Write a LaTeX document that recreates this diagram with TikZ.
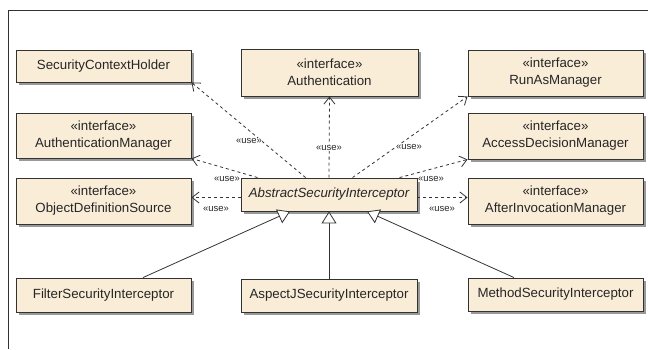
\documentclass[tikz,border=0pt]{standalone}
\usepackage{fontspec}
\setmainfont{Liberation Sans}
\usetikzlibrary{arrows.meta,shadows,calc}
\definecolor{boxfill}{RGB}{250,237,216}
\definecolor{boxline}{RGB}{50,50,50}
\tikzset{
  cls/.style={draw=boxline, line width=0.9pt, fill=boxfill, inner sep=0pt, align=center,
    font=\fontsize{13.3}{17}\selectfont, text=black!85,
    drop shadow={shadow xshift=2.5pt, shadow yshift=-2.5pt, fill=black!40, opacity=1}},
  dep/.style={draw=black!80, line width=0.8pt, dash pattern=on 3pt off 3pt,
    -{Straight Barb[length=7pt,width=11pt,line width=0.8pt]}},
  gen/.style={draw=black!80, line width=0.8pt,
    -{Triangle[open,length=12pt,width=15pt,fill=white,line width=0.8pt]}},
  uselbl/.style={font=\fontsize{9.5}{10}\selectfont, fill=white, inner sep=0.5pt, text=black!85}
}
\begin{document}
\begin{tikzpicture}[x=1pt,y=-1pt]
\useasboundingbox (0,0) rectangle (648,349);
\draw[black!80, line width=0.9pt] (8,349) -- (8,10.5) -- (648,10.5);

\node[cls, minimum width=175pt, minimum height=32pt] (sch) at (103.5,66) {SecurityContextHolder};
\node[cls, minimum width=175pt, minimum height=45pt] (am) at (103.5,135.5) {«interface»\\AuthenticationManager};
\node[cls, minimum width=175pt, minimum height=46pt] (ods) at (103.5,201) {«interface»\\ObjectDefinitionSource};
\node[cls, minimum width=175pt, minimum height=34pt] (fsi) at (103.5,295) {FilterSecurityInterceptor};
\node[cls, minimum width=177pt, minimum height=47pt] (auth) at (329.5,72.5) {«interface»\\Authentication};
\node[cls, minimum width=175pt, minimum height=46pt] (ram) at (555.5,73) {«interface»\\RunAsManager};
\node[cls, minimum width=175pt, minimum height=46pt] (adm) at (555.5,136) {«interface»\\AccessDecisionManager};
\node[cls, minimum width=175pt, minimum height=46pt] (aim) at (555.5,201) {«interface»\\AfterInvocationManager};
\node[cls, minimum width=175pt, minimum height=33pt] (msi) at (555.5,294.5) {MethodSecurityInterceptor};
\node[cls, minimum width=176pt, minimum height=33pt] (asi) at (329,295.5) {AspectJSecurityInterceptor};
\node[cls, minimum width=176pt, minimum height=33pt, font=\fontsize{13.3}{17}\selectfont\itshape] (abs) at (329,194.5) {AbstractSecurityInterceptor};

% dependencies
\draw[dep] ([xshift=65pt]abs.north west) -- (sch.south east);
\draw[dep] ([xshift=17pt]abs.north west) -- (am.south east);
\draw[dep] (abs.north) -- (auth.south);
\draw[dep] ([xshift=112pt]abs.north west) -- (ram.south west);
\draw[dep] ([xshift=159pt]abs.north west) -- (adm.south west);
\draw[dep] ([yshift=-3pt]abs.west) -- ([yshift=-3pt]abs.west -| ods.east);
\draw[dep] ([yshift=-3pt]abs.east) -- ([yshift=-3pt]abs.east -| aim.west);

% labels
\node[uselbl] (l1) at (249,141) {«use»};
\node[uselbl] (l2) at (329,148) {«use»};
\node[uselbl] (l3) at (409,147) {«use»};
\node[uselbl] (l4) at (227,179) {«use»};
\node[uselbl] (l5) at (431,179) {«use»};
\node[uselbl] (l6) at (216,209) {«use»};
\node[uselbl] (l7) at (442,209) {«use»};

% generalizations
\draw[gen] ([xshift=39.5pt]fsi.north) -- ([xshift=-39pt]abs.south);
\draw[gen] (asi.north) -- (abs.south);
\draw[gen] ([xshift=-41.5pt]msi.north) -- ([xshift=38pt]abs.south);
\end{tikzpicture}
\end{document}
